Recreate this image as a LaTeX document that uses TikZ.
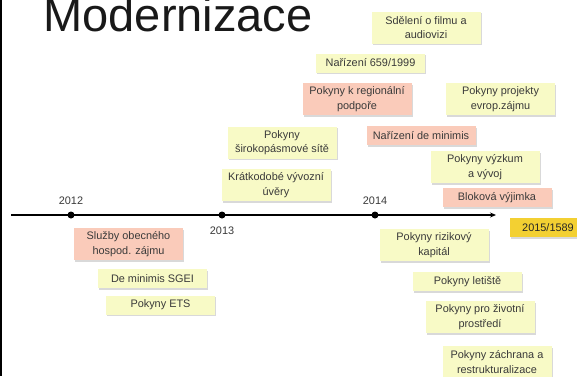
\documentclass[tikz,border=0pt]{standalone}
\usepackage{fontspec}
\setmainfont{Liberation Sans}
\usetikzlibrary{shadows,arrows.meta}

\definecolor{yelbox}{HTML}{F8FAC6}
\definecolor{redbox}{HTML}{FACBBA}
\definecolor{goldbox}{HTML}{F3D032}
\definecolor{txtgray}{HTML}{3A3A3A}

\tikzset{
  box/.style={text=txtgray, align=center, minimum width=109pt, inner sep=0pt,
    font=\fontsize{10.9}{14.5}\selectfont,
    drop shadow={shadow xshift=1pt,shadow yshift=-1.5pt,opacity=.3}},
  one/.style={box, minimum height=19pt},
  two/.style={box, minimum height=32pt},
  yel/.style={fill=yelbox},
  red/.style={fill=redbox},
  dot/.style={circle, fill=black, inner sep=0pt, minimum size=7pt},
  year/.style={text=txtgray, font=\fontsize{10.9}{12}\selectfont}
}

\begin{document}
\begin{tikzpicture}[x=1pt,y=-1pt]
   \useasboundingbox (0,0) rectangle (577,376);
   \draw[line width=1.5pt] (0.75,0) -- (0.75,376);

   \node[anchor=base west, font=\fontsize{47}{47}\selectfont, text=black!90] (title) at (40,31) {Modernizace};

   % timeline
   \coordinate (t0) at (11,215);
   \coordinate (t1) at (496,215);
   \draw[line width=1.1pt, -{Stealth[length=6pt,width=5pt]}] (t0) -- (t1);
   \node[dot] (d12) at (71,215) {};
   \node[dot] (d13) at (222,215) {};
   \node[dot] (d14) at (375,215) {};
   \node[year] (y12) at (71,201) {2012};
   \node[year] (y13) at (222,231) {2013};
   \node[year] (y14) at (375,201) {2014};

   % above the line
   \node[two,yel] (film) at (426,27.5) {Sdělení o filmu a\\audiovizi};
   \node[one,yel] (nar659) at (370.5,63) {Nařízení 659/1999};
   \node[two,red] (region) at (357,99) {Pokyny k regionální\\podpoře};
   \node[two,yel] (evrop) at (500.5,99) {Pokyny projekty\\evrop.zájmu};
   \node[two,yel] (siroko) at (282,142.5) {Pokyny\\širokopásmové sítě};
   \node[two,yel] (vyvoz) at (276,185) {Krátkodobé vývozní\\úvěry};
   \node[one,red] (demin) at (421,135.5) {Nařízení de minimis};
   \node[two,yel] (vyzkum) at (485,167) {Pokyny výzkum\\a vývoj};
   \node[one,red] (blok) at (497,197.5) {Bloková výjimka};
   \node[one,fill=goldbox,minimum width=76pt,text=black!85] (nar2015) at (548,227.5) {2015/1589};

   % below the line
   \node[two,red] (sluzby) at (128.5,244) {Služby obecného\\hospod. zájmu};
   \node[one,yel] (sgei) at (152.5,278.5) {De minimis SGEI};
   \node[one,yel] (ets) at (160.5,305) {Pokyny ETS};
   \node[two,yel] (riziko) at (434,245) {Pokyny rizikový\\kapitál};
   \node[one,yel] (letiste) at (467.5,281.5) {Pokyny letiště};
   \node[two,yel] (zivot) at (480,317) {Pokyny pro životní\\prostředí};
   \node[two,yel] (zachr) at (497,362) {Pokyny záchrana a\\restrukturalizace};
\end{tikzpicture}
\end{document}
